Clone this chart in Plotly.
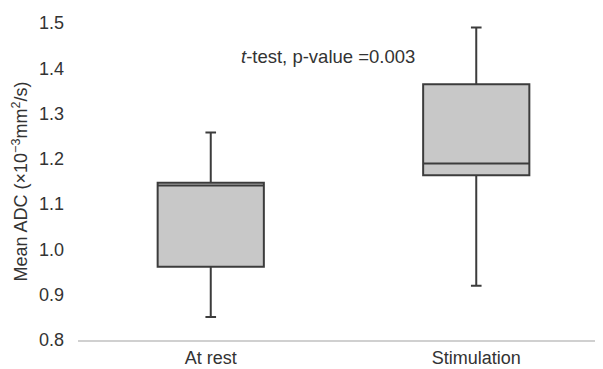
import plotly.graph_objects as go

categories = ["At rest", "Stimulation"]
lower_whisker = [0.851, 0.920]
q1_vals = [0.962, 1.164]
median_vals = [1.141, 1.190]
q3_vals = [1.147, 1.365]
upper_whisker = [1.258, 1.490]
y_ticks = [0.8, 0.9, 1.0, 1.1, 1.2, 1.3, 1.4, 1.5]

FONT = "Liberation Sans, Arial, sans-serif"
TXT = "#333333"

fig = go.Figure()
fig.add_trace(go.Box(
    x=categories,
    q1=q1_vals, median=median_vals, q3=q3_vals,
    lowerfence=lower_whisker, upperfence=upper_whisker,
    fillcolor="#c8c8c8",
    line=dict(color="#3c3c3c", width=2),
    width=0.40,
    whiskerwidth=0.1,
    boxpoints=False,
    hoverinfo="skip",
    showlegend=False,
))

fig.add_annotation(
    x=0.44, y=1.427, xref="x", yref="y",
    text="<i>t</i>-test, p-value =0.003",
    showarrow=False,
    font=dict(family=FONT, size=18.5, color=TXT),
)

fig.update_layout(
    width=603, height=369,
    margin=dict(l=70, r=2, t=15, b=37),
    paper_bgcolor="white", plot_bgcolor="white",
    font=dict(family=FONT, size=18, color=TXT),
    xaxis=dict(
        type="category",
        range=[-0.5, 1.5],
        automargin=False,
        showline=True, linecolor="#d0d0d0", linewidth=2,
        showgrid=False, ticks="",
        tickfont=dict(family=FONT, size=18, color=TXT),
    ),
    yaxis=dict(
        range=[0.8, 1.5],
        automargin=False,
        tickvals=y_ticks,
        tickformat=".1f",
        showgrid=False, zeroline=False, showline=False,
        ticks="", ticklabelstandoff=13,
        tickfont=dict(family=FONT, size=18, color=TXT),
        title=dict(text="Mean ADC (×10<sup>−3</sup>mm<sup>2</sup>/s)",
                   font=dict(family=FONT, size=18, color=TXT), standoff=6),
    ),
)

fig.write_html("out.html")
